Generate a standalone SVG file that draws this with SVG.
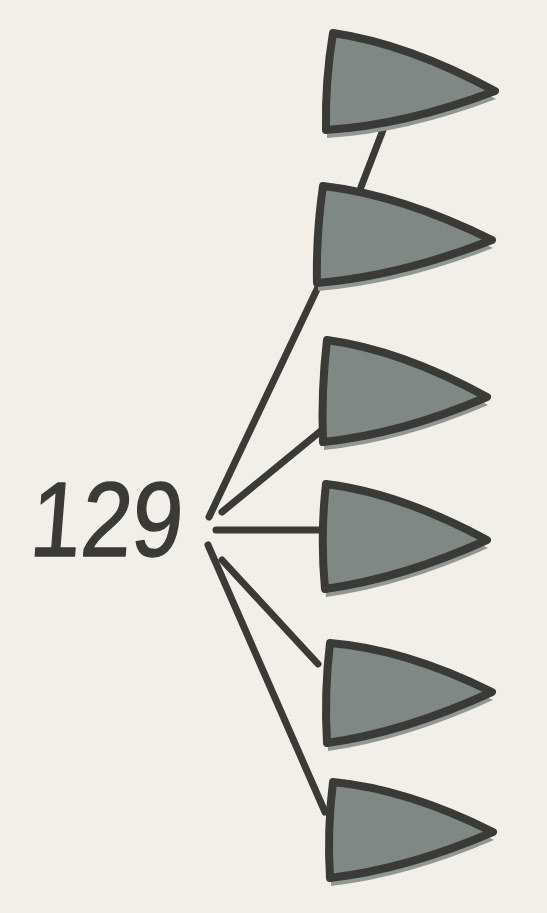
<svg xmlns="http://www.w3.org/2000/svg" width="547" height="913" viewBox="0 0 547 913">
<style>
.bg{fill:#f1efe8}
.shadow{fill:#8f9893}
.cone{fill:#7f8884;stroke:#3a3a37;stroke-width:8;stroke-linejoin:round}
.link{stroke:#3a3a37;stroke-width:7;stroke-linecap:round;fill:none}
.label{font-family:"Liberation Sans","DejaVu Sans",sans-serif;font-size:106px;fill:#3a3a37;stroke:#3a3a37;stroke-width:1.5;stroke-linejoin:round}
</style>
<rect class="bg" x="0" y="0" width="547" height="913"/>
<g id="connectors">
<line class="link" x1="383" y1="130" x2="361" y2="187"/>
<line class="link" x1="209" y1="517" x2="320" y2="283"/>
<line class="link" x1="222" y1="512" x2="322" y2="430"/>
<line class="link" x1="216" y1="530" x2="323" y2="530"/>
<line class="link" x1="222" y1="560" x2="318" y2="664"/>
<line class="link" x1="208" y1="545" x2="325" y2="812"/>
</g>
<g id="n1">
<path class="shadow" transform="translate(1,8)" d="M333,33 Q408,44 495,91 Q406,125 326,130 Q325,81 333,33 Z"/>
<path class="cone" d="M333,33 Q408,44 495,91 Q406,125 326,130 Q325,81 333,33 Z"/>
</g>
<g id="n2">
<path class="shadow" transform="translate(1,8)" d="M323,186 Q401,195 492,240 Q400,276 317,283 Q316,234 323,186 Z"/>
<path class="cone" d="M323,186 Q401,195 492,240 Q400,276 317,283 Q316,234 323,186 Z"/>
</g>
<g id="n3">
<path class="shadow" transform="translate(1,8)" d="M327,340 Q401,350 487,397 Q401,434 323,442 Q321,391 327,340 Z"/>
<path class="cone" d="M327,340 Q401,350 487,397 Q401,434 323,442 Q321,391 327,340 Z"/>
</g>
<g id="n4">
<path class="shadow" transform="translate(1,8)" d="M326,484 Q400,493 487,540 Q403,578 325,589 Q320,536 326,484 Z"/>
<path class="cone" d="M326,484 Q400,493 487,540 Q403,578 325,589 Q320,536 326,484 Z"/>
</g>
<g id="n5">
<path class="shadow" transform="translate(1,8)" d="M330,643 Q405,649 492,692 Q405,732 327,743 Q324,693 330,643 Z"/>
<path class="cone" d="M330,643 Q405,649 492,692 Q405,732 327,743 Q324,693 330,643 Z"/>
</g>
<g id="n6">
<path class="shadow" transform="translate(1,8)" d="M333,782 Q407,789 493,832 Q407,869 330,878 Q327,830 333,782 Z"/>
<path class="cone" d="M333,782 Q407,789 493,832 Q407,869 330,878 Q327,830 333,782 Z"/>
</g>
<g id="label129">
<text class="label" x="28" y="556" textLength="152" lengthAdjust="spacingAndGlyphs" transform="translate(45,0) skewX(-4.6)">129</text>
</g>
</svg>
